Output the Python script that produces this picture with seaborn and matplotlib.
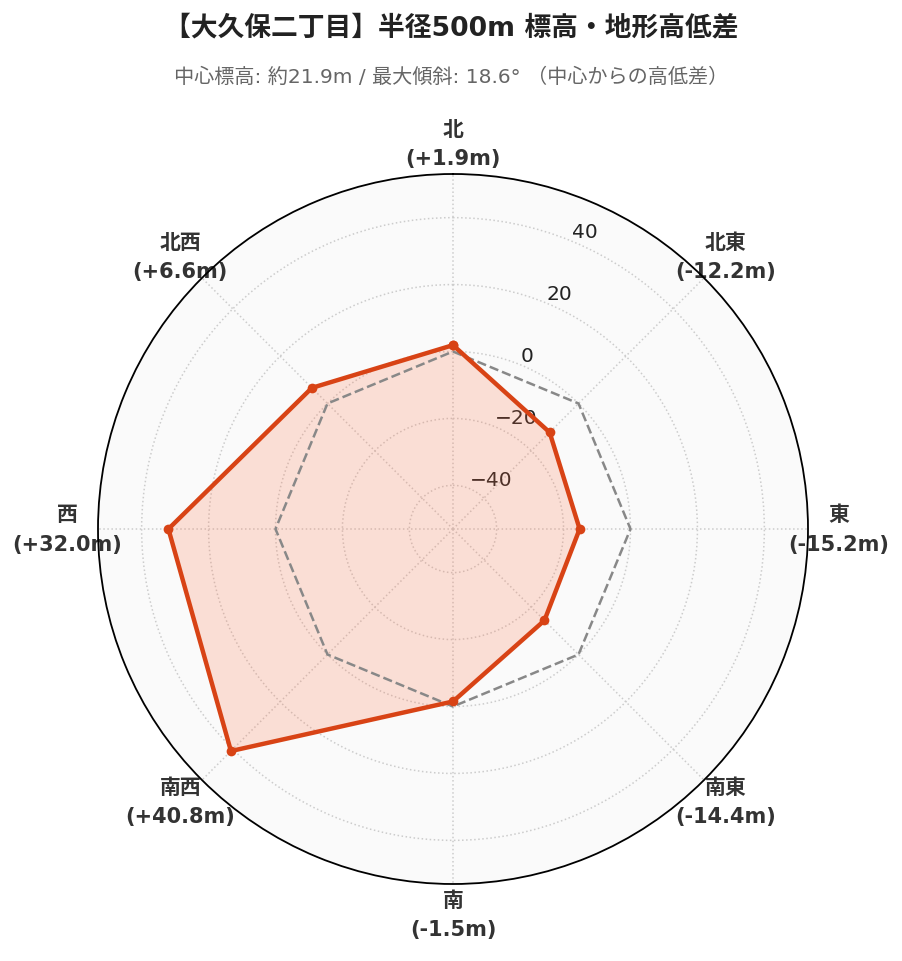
import numpy as np
import pandas as pd
import matplotlib
matplotlib.use("Agg")
import matplotlib.pyplot as plt
import seaborn as sns

# ==========================================
# DATA
# ==========================================
DIRECTIONS = ["北", "北東", "東", "南東", "南", "南西", "西", "北西"]
DIFFS = [1.9, -12.2, -15.2, -14.4, -1.5, 40.8, 32.0, 6.6]
R_TICKS = [-40, -20, 0, 20, 40]
TITLE = "【大久保二丁目】半径500m 標高・地形高低差"
SUBTITLE = "中心標高: 約21.9m / 最大傾斜: 18.6° （中心からの高低差）"

LINE_COLOR = "#D84315"
FILL_COLOR = "#FF7043"

# ==========================================
# PLOT
# ==========================================
sns.set_theme(style="white")
plt.rcParams["font.family"] = ["DejaVu Sans", "Noto Sans CJK JP"]

n = len(DIRECTIONS)
angles = np.linspace(0, 2 * np.pi, n, endpoint=False)
df = pd.DataFrame({"angle": np.append(angles, angles[0]),
                   "diff": DIFFS + DIFFS[:1]})
df["zero"] = 0.0

fig = plt.figure(figsize=(9.03, 9.62), dpi=100)
ax = fig.add_axes([98 / 903, 77 / 962, 710 / 903, 710 / 962], projection="polar")
ax.set_theta_zero_location("N")
ax.set_theta_direction(-1)
ax.set_facecolor("#fafafa")

lim = max(abs(v) for v in DIFFS) * 1.3
ax.set_ylim(-lim, lim)

# zero reference
sns.lineplot(data=df, x="angle", y="zero", ax=ax, sort=False, estimator=None,
             color="#888888", linestyle="--", linewidth=1.8, zorder=3)
# fill + data line
ax.fill(df["angle"], df["diff"], color=FILL_COLOR, alpha=0.2, zorder=2, linewidth=0)
sns.lineplot(data=df, x="angle", y="diff", ax=ax, sort=False, estimator=None,
             color=LINE_COLOR, linewidth=3.2, marker="o", markersize=7,
             markeredgewidth=0, zorder=4)

ax.set_xlabel("")
ax.set_ylabel("")
ax.set_xticks(angles)
labels = ax.set_xticklabels([f"{d}\n({v:+.1f}m)" for d, v in zip(DIRECTIONS, DIFFS)],
                            fontsize=15, fontweight="bold", color="#333333")
for lab in labels:
    lab.set_linespacing(1.6)
ax.tick_params(axis="x", pad=9)
ax.set_yticks(R_TICKS)
ax.set_yticklabels([f"{t}".replace("-", "\u2212") for t in R_TICKS], fontsize=14.5, color="#222222")
ax.set_rlabel_position(22.5)
ax.grid(True, linestyle=":", color="#cccccc", linewidth=1.1)
ax.spines["polar"].set_color("black")
ax.spines["polar"].set_linewidth(1.3)

fig.text(0.5, 1 - 28 / 962, TITLE, ha="center", va="center",
         fontsize=19.3, fontweight="bold", color="#222222")
fig.text(0.5, 1 - 77 / 962, SUBTITLE, ha="center", va="center",
         fontsize=14.5, color="#666666")

fig.savefig("out.png", dpi=100, facecolor="white")
plt.close(fig)
